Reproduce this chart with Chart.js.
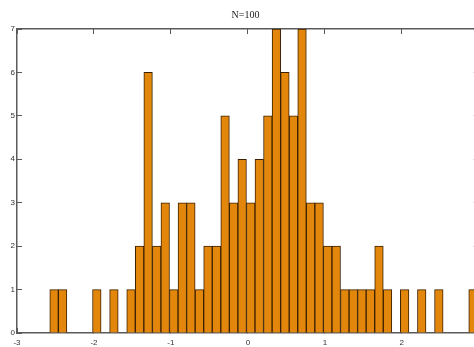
<!DOCTYPE html>
<html>
<head>
<meta charset="utf-8">
<script src="https://cdn.jsdelivr.net/npm/chart.js@4.4.1/dist/chart.umd.min.js"></script>
<style>
  html, body { margin: 0; padding: 0; background: #fff; overflow: hidden; }
  #wrap { width: 491px; height: 347px; }
</style>
</head>
<body>
<div id="wrap"><canvas id="hist" width="491" height="347"></canvas></div>
<script>
// histogram of 100 samples, 50 bins
const binStart = -2.574;
const binWidth = 0.1111;
const counts = [
    1, 1, 0, 0, 0, 1, 0, 1, 0, 1,
    2, 6, 2, 3, 1, 3, 3, 1, 2, 2,
    5, 3, 4, 3, 4, 5, 7, 6, 5, 7,
    3, 3, 2, 2, 1, 1, 1, 1, 2, 1,
    0, 1, 0, 1, 0, 1, 0, 0, 0, 1
];
const xTicks = [-3, -2, -1, 0, 1, 2, 3];
const yTicks = [0, 1, 2, 3, 4, 5, 6, 7];

const axisColor = '#5a5a5a';

function initializeHistogram(ctx) {
    const points = counts.map((c, i) => ({ x: binStart + (i + 0.5) * binWidth, y: c }));

    const inwardGrid = {
        drawOnChartArea: false,
        drawTicks: true,
        tickLength: -5,
        offset: false,
        color: axisColor,
        lineWidth: 1,
    };
    const border = { display: true, color: axisColor, width: 1.5 };

    const data = {
        datasets: [{
            label: 'N=100',
            data: points,
            backgroundColor: '#e3870c',
            borderColor: '#3c2000',
            borderWidth: 1,
            borderSkipped: 'start',
            categoryPercentage: 1,
            barPercentage: 1,
            xAxisID: 'x',
            yAxisID: 'y',
        }]
    };

    const options = {
        responsive: false,
        animation: false,
        layout: { padding: 0 },
        plugins: {
            legend: { display: false },
            tooltip: { enabled: false },
            title: {
                display: true,
                text: 'N=100',
                color: '#222',
                font: { family: '"Liberation Serif", "DejaVu Serif", serif', size: 10, weight: 'normal', lineHeight: 1.1 },
                padding: { top: 10, bottom: 8 },
            },
        },
        scales: {
            x: {
                type: 'linear',
                position: 'bottom',
                offset: false,
                min: xTicks[0],
                max: xTicks[xTicks.length - 1],
                afterBuildTicks: scale => { scale.ticks = xTicks.map(v => ({ value: v })); },
                afterFit: scale => { scale.height = 14; },
                grid: inwardGrid,
                border: border,
                ticks: {
                    padding: 10,
                    color: '#333',
                    font: { family: '"Liberation Sans", Arial, sans-serif', size: 8 },
                    maxRotation: 0,
                },
            },
            x2: {
                type: 'linear',
                position: 'top',
                offset: false,
                min: xTicks[0],
                max: xTicks[xTicks.length - 1],
                afterBuildTicks: scale => { scale.ticks = xTicks.map(v => ({ value: v })); },
                afterFit: scale => { scale.height = 0; },
                grid: inwardGrid,
                border: border,
                ticks: { display: false },
            },
            y: {
                type: 'linear',
                position: 'left',
                min: yTicks[0],
                max: yTicks[yTicks.length - 1],
                afterBuildTicks: scale => { scale.ticks = yTicks.map(v => ({ value: v })); },
                afterFit: scale => { scale.width = 17; },
                grid: inwardGrid,
                border: border,
                ticks: {
                    padding: 7,
                    color: '#333',
                    font: { family: '"Liberation Sans", Arial, sans-serif', size: 8 },
                },
            },
            y2: {
                type: 'linear',
                position: 'right',
                min: yTicks[0],
                max: yTicks[yTicks.length - 1],
                afterBuildTicks: scale => { scale.ticks = yTicks.map(v => ({ value: v })); },
                afterFit: scale => { scale.width = 0; },
                grid: inwardGrid,
                border: border,
                ticks: { display: false },
            },
        },
    };

    return new Chart(ctx, {
        type: 'bar',
        data: data,
        options: options,
    });
}

const histChart = initializeHistogram(document.getElementById('hist').getContext('2d'));
</script>
</body>
</html>
